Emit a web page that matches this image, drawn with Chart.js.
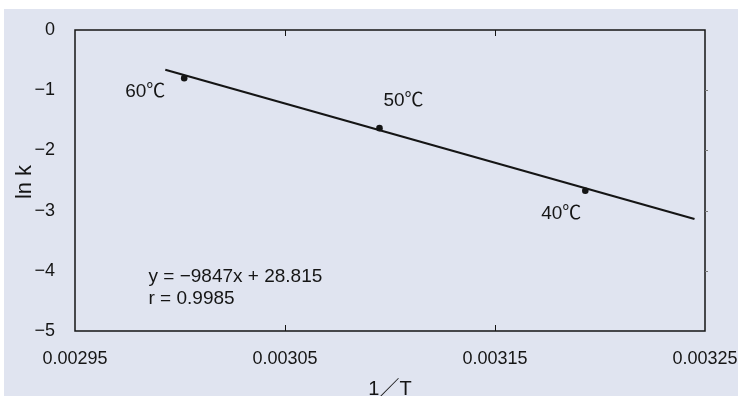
<!DOCTYPE html>
<html>
<head>
<meta charset="utf-8">
<script src="https://cdn.jsdelivr.net/npm/chart.js@4/dist/chart.umd.min.js"></script>
<style>
html,body{margin:0;padding:0;background:#fff;}
#wrap{width:738px;height:396px;position:relative;}
</style>
</head>
<body>
<div id="wrap"><canvas id="c" width="738" height="396"></canvas></div>
<script>
// ---- data ----
const xTicks = [0.00295, 0.00305, 0.00315, 0.00325];
const yTicks = [0, -1, -2, -3, -4, -5];
const invT = [0.003002, 0.003095, 0.003193];
const lnK = [-0.80, -1.63, -2.67];
const tempLabels = ['60℃', '50℃', '40℃'];
const fitX = [0.002993, 0.003245];
const fitY = [-0.66, -3.14];
const equationLines = ['y = −9847x + 28.815', 'r = 0.9985'];
const xTitle = '1／T';
const yTitle = 'ln k';

const FONT = "'Liberation Sans', Arial, 'Noto Sans CJK JP', sans-serif";
const INK = '#151515';

const labelOffsets = [[-39, 14], [24, -27], [-24, 23]];

const decor = {
  id: 'decor',
  beforeDraw(chart) {
    const ctx = chart.ctx;
    ctx.save();
    ctx.fillStyle = '#ffffff';
    ctx.fillRect(0, 0, chart.width, chart.height);
    ctx.fillStyle = '#e0e4f0';
    ctx.fillRect(4, 9, chart.width - 4, chart.height - 9);
    ctx.restore();
  },
  afterDraw(chart) {
    const ctx = chart.ctx;
    const a = chart.chartArea;
    const xs = chart.scales.x, ys = chart.scales.y;
    ctx.save();
    // frame
    ctx.strokeStyle = INK;
    ctx.lineWidth = 1.5;
    ctx.strokeRect(a.left, a.top, a.right - a.left, a.bottom - a.top);
    // inner x ticks (top and bottom)
    ctx.lineWidth = 1;
    xTicks.forEach(v => {
      const px = Math.round(xs.getPixelForValue(v)) + 0.5;
      if (px <= a.left + 2 || px >= a.right - 2) return;
      ctx.beginPath();
      ctx.moveTo(px, a.bottom); ctx.lineTo(px, a.bottom - 6);
      ctx.moveTo(px, a.top); ctx.lineTo(px, a.top + 6);
      ctx.stroke();
    });
    // small outer ticks on right
    ctx.strokeStyle = '#777';
    yTicks.forEach(v => {
      const py = Math.round(ys.getPixelForValue(v)) + 0.5;
      if (py <= a.top + 2 || py >= a.bottom - 2) return;
      ctx.beginPath();
      ctx.moveTo(a.right, py); ctx.lineTo(a.right + 3, py);
      ctx.stroke();
    });
    // temperature labels
    ctx.fillStyle = INK;
    ctx.font = '19px ' + FONT;
    ctx.textAlign = 'center';
    ctx.textBaseline = 'middle';
    invT.forEach((v, i) => {
      const px = xs.getPixelForValue(v) + labelOffsets[i][0];
      const py = ys.getPixelForValue(lnK[i]) + labelOffsets[i][1];
      ctx.fillText(tempLabels[i], px, py);
    });
    // equation
    ctx.textAlign = 'left';
    ctx.textBaseline = 'alphabetic';
    ctx.font = '19px ' + FONT;
    const ex = xs.getPixelForValue(0.002985);
    const ey = ys.getPixelForValue(-4.18);
    equationLines.forEach((t, i) => ctx.fillText(t, ex, ey + i * 22));
    // axis titles
    ctx.font = '20px ' + FONT;
    ctx.textAlign = 'center';
    ctx.textBaseline = 'alphabetic';
    ctx.fillText(xTitle, (a.left + a.right) / 2, 395);
    ctx.save();
    ctx.font = '22px ' + FONT;
    ctx.textBaseline = 'middle';
    ctx.translate(25, 182);
    ctx.rotate(-Math.PI / 2);
    ctx.fillText(yTitle, 0, 0);
    ctx.restore();
    ctx.restore();
  }
};

new Chart(document.getElementById('c'), {
  type: 'scatter',
  data: {
    datasets: [
      {
        label: 'fit',
        data: fitX.map((x, i) => ({x, y: fitY[i]})),
        showLine: true,
        borderColor: INK,
        borderWidth: 2.2,
        pointRadius: 0,
        fill: false
      },
      {
        label: 'ln k',
        data: invT.map((x, i) => ({x, y: lnK[i]})),
        showLine: false,
        pointRadius: 3.3,
        pointBackgroundColor: INK,
        pointBorderColor: INK,
        pointBorderWidth: 0
      }
    ]
  },
  options: {
    responsive: false,
    animation: false,
    devicePixelRatio: 1,
    layout: {padding: {top: 30, left: 0, right: 33, bottom: 0}},
    plugins: {legend: {display: false}, tooltip: {enabled: false}},
    scales: {
      x: {
        type: 'linear',
        min: xTicks[0],
        max: xTicks[xTicks.length - 1],
        grid: {display: false, drawTicks: false},
        border: {display: false},
        afterBuildTicks: s => { s.ticks = xTicks.map(v => ({value: v})); },
        afterFit: s => { s.height = 65; s.paddingLeft = 0; s.paddingRight = 0; },
        ticks: {
          color: INK,
          padding: 17,
          maxRotation: 0,
          autoSkip: false,
          font: {family: FONT, size: 18},
          callback: v => Number(v).toFixed(5)
        }
      },
      y: {
        type: 'linear',
        min: yTicks[yTicks.length - 1],
        max: yTicks[0],
        grid: {display: false, drawTicks: false},
        border: {display: false},
        afterBuildTicks: s => { s.ticks = yTicks.map(v => ({value: v})); },
        afterFit: s => { s.width = 75; s.paddingTop = 0; s.paddingBottom = 0; },
        ticks: {
          color: INK,
          padding: 20,
          autoSkip: false,
          font: {family: FONT, size: 18},
          callback: v => (v < 0 ? '−' + Math.abs(v) : String(v))
        }
      }
    }
  },
  plugins: [decor]
});
</script>
</body>
</html>
